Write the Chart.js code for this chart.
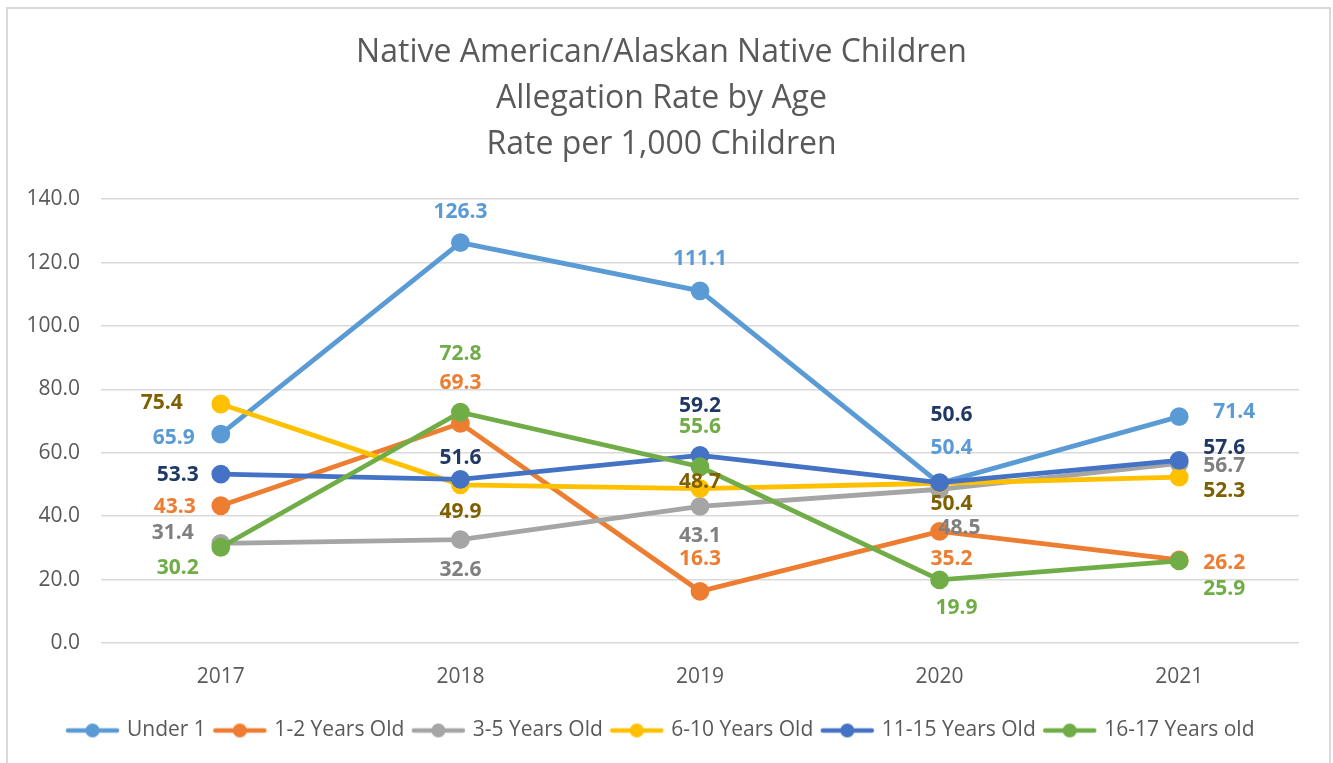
<!DOCTYPE html>
<html>
<head>
<meta charset="utf-8">
<script src="https://cdn.jsdelivr.net/npm/chart.js@4"></script>
<style>
  body { margin: 0; background: #fff; }
  #frame { position: absolute; left: 6px; top: 7px; width: 1321px; height: 800px; border: 2px solid #D9D9D9; }
  #wrap { position: absolute; left: 0; top: 0; width: 1333px; height: 763px; }
</style>
</head>
<body>
<div id="frame"></div>
<div id="wrap"><canvas id="rate_chart"></canvas></div>
<script>
const years = ["2017", "2018", "2019", "2020", "2021"];

const under_1      = [65.9, 126.3, 111.1, 50.4, 71.4];
const years_1_2    = [43.3, 69.3, 16.3, 35.2, 26.2];
const years_3_5    = [31.4, 32.6, 43.1, 48.5, 56.7];
const years_6_10   = [75.4, 49.9, 48.7, 50.4, 52.3];
const years_11_15  = [53.3, 51.6, 59.2, 50.6, 57.6];
const years_16_17  = [30.2, 72.8, 55.6, 19.9, 25.9];

const series_names = ["Under 1", "1-2 Years Old", "3-5 Years Old", "6-10 Years Old", "11-15 Years Old", "16-17 Years old"];
const series_values = [under_1, years_1_2, years_3_5, years_6_10, years_11_15, years_16_17];

const y_ticks = [0, 20, 40, 60, 80, 100, 120, 140];

// office palette, line colour and the darker data label colour
const line_colors  = ["#5B9BD5", "#ED7D31", "#A5A5A5", "#FFC000", "#4472C4", "#70AD47"];
const label_colors = ["#5B9BD5", "#ED7D31", "#808080", "#7F6000", "#203864", "#70AD47"];

// where each value label sits relative to its marker (dx, dy in px)
const label_offsets = [
  [[-47, 4], [0, -31], [0, -32], [12, -35], [55, -5]],
  [[-46, 1], [0, -40], [0, -32], [12, 28], [45, 3]],
  [[-48, -10], [0, 30], [0, 30], [20, 39], [45, 3]],
  [[-59, -1], [0, 27], [0, -7], [12, 21], [45, 14]],
  [[-43, 1], [0, -21], [0, -49], [12, -68], [45, -12]],
  [[-43, 21], [0, -58], [0, -40], [17, 28], [45, 28]]
];

const font_family = "'Open Sans', 'Liberation Sans', sans-serif";
const text_grey = "#595959";

function legendMarker(color) {
  var c = document.createElement('canvas');
  c.width = 55;
  c.height = 16;
  var ctx = c.getContext('2d');
  ctx.strokeStyle = color;
  ctx.lineWidth = 4.5;
  ctx.lineCap = 'round';
  ctx.beginPath();
  ctx.moveTo(3, 8);
  ctx.lineTo(52, 8);
  ctx.stroke();
  ctx.fillStyle = color;
  ctx.beginPath();
  ctx.arc(27.5, 8, 7, 0, Math.PI * 2);
  ctx.fill();
  return c;
}

const valueLabels = {
  id: 'valueLabels',
  afterDatasetsDraw(chart) {
    var ctx = chart.ctx;
    ctx.save();
    ctx.font = "bold 21px " + font_family;
    ctx.textAlign = 'center';
    ctx.textBaseline = 'middle';
    chart.data.datasets.forEach(function (ds, i) {
      var meta = chart.getDatasetMeta(i);
      meta.data.forEach(function (pt, j) {
        var off = label_offsets[i][j];
        ctx.fillStyle = label_colors[i];
        ctx.fillText(ds.data[j].toFixed(1), pt.x + off[0], pt.y + off[1]);
      });
    });
    ctx.restore();
  }
};

const datasets = series_names.map(function (name, i) {
  return {
    label: name,
    data: series_values[i],
    borderColor: line_colors[i],
    backgroundColor: line_colors[i],
    pointBackgroundColor: line_colors[i],
    pointBorderColor: line_colors[i],
    borderWidth: 4.8,
    pointRadius: 7,
    pointHoverRadius: 7,
    tension: 0,
    order: series_names.length - i // later series drawn on top, like the original
  };
});

new Chart(document.getElementById('rate_chart'), {
  type: 'line',
  data: { labels: years, datasets: datasets },
  options: {
    responsive: true,
    maintainAspectRatio: false,
    animation: false,
    events: [],
    layout: { padding: { left: 24, right: 34, top: 0, bottom: 12 } },
    scales: {
      x: {
        offset: true,
        grid: { display: false, drawTicks: false, offset: true },
        border: { display: false },
        ticks: { color: text_grey, font: { family: font_family, size: 21 }, padding: 21 },
        afterFit: function (scale) { scale.height = 67; }
      },
      y: {
        min: 0,
        max: 140,
        afterBuildTicks: function (scale) { scale.ticks = y_ticks.map(v => ({ value: v })); },
        grid: { color: "#D9D9D9", lineWidth: 1.5, drawTicks: false },
        border: { display: false },
        ticks: {
          color: text_grey,
          font: { family: font_family, size: 21 },
          padding: 21,
          callback: function (v) { return Number(v).toFixed(1); }
        },
        afterFit: function (scale) { scale.width = 77; }
      }
    },
    plugins: {
      title: {
        display: true,
        text: ["Native American/Alaskan Native Children", "Allegation Rate by Age", "Rate per 1,000 Children"],
        color: text_grey,
        font: { family: font_family, size: 32, weight: 'normal', lineHeight: 1.44 },
        padding: { top: 30, bottom: 31 }
      },
      legend: {
        position: 'bottom',
        labels: {
          color: text_grey,
          font: { family: font_family, size: 21 },
          usePointStyle: true,
          pointStyleWidth: 48,
          padding: 10,
          sort: function (a, b) { return a.datasetIndex - b.datasetIndex; },
          generateLabels: function (chart) {
            var items = Chart.defaults.plugins.legend.labels.generateLabels(chart);
            items.forEach(function (it) {
              it.pointStyle = legendMarker(line_colors[it.datasetIndex]);
            });
            return items;
          }
        }
      },
      tooltip: { enabled: false }
    }
  },
  plugins: [valueLabels]
});
</script>
</body>
</html>
